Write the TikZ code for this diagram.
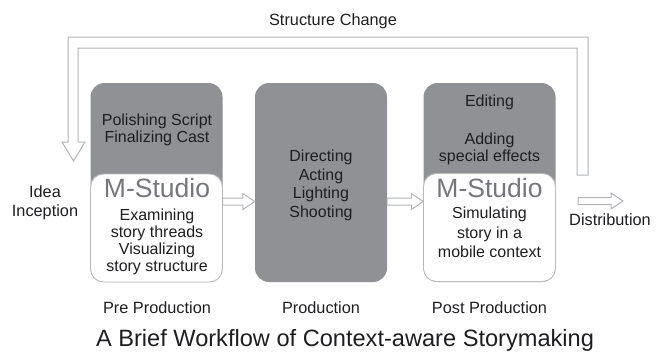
\documentclass[tikz,border=0pt]{standalone}
\usepackage{fontspec}
\setmainfont{Liberation Sans}
\usetikzlibrary{calc}
\definecolor{boxgray}{RGB}{143,145,149}
\definecolor{edgegray}{RGB}{185,186,190}
\definecolor{linegray}{RGB}{178,180,184}
\definecolor{studiogray}{RGB}{118,119,124}
\definecolor{inkgray}{RGB}{30,30,33}
\tikzset{
  stage/.style={rounded corners=14pt, fill=boxgray, minimum width=132pt,
    minimum height=199pt, inner sep=0pt},
  studio/.style={rounded corners=13pt, fill=white, draw=edgegray, line width=0.9pt,
    minimum width=132pt, minimum height=108pt, inner sep=0pt},
  txt/.style={font=\fontsize{16}{17}\selectfont, align=center, text=inkgray, inner sep=0pt},
  mstudio/.style={font=\fontsize{26.5}{28}\selectfont, text=studiogray, inner sep=0pt},
  label/.style={font=\fontsize{16.3}{19}\selectfont, align=center, text=inkgray, inner sep=0pt},
  hollow/.style={draw=linegray, fill=white, line width=1pt, line join=miter},
}
\newcommand{\hollowarrow}[2]{%
  \draw[hollow] let \p1=(#1), \p2=(#2) in
    (\x1,\y1+3.5pt) -- (\x2-12pt,\y1+3.5pt) -- (\x2-12pt,\y1+8pt) -- (\x2,\y1)
    -- (\x2-12pt,\y1-8pt) -- (\x2-12pt,\y1-3.5pt) -- (\x1,\y1-3.5pt) -- cycle;}
\begin{document}
\begin{tikzpicture}[x=1pt, y=-1pt]
  \useasboundingbox (0,0) rectangle (664,356);
  % feedback loop
  \draw[hollow] (577,175) -- (577,48) -- (78,48) -- (78,142) -- (85,142)
    -- (73.5,161) -- (62,142) -- (68,142) -- (68,37) -- (588,37) -- (588,175) -- cycle;
  \node[label] (change) at (333,21) {Structure Change};
  % pre production
  \node[stage] (pre) at (156.5,182.5) {};
  \node[studio] (prelow) at (156.5,228) {};
  \node[txt] (pretask) at (157,130) {Polishing Script\\Finalizing Cast};
  \node[mstudio] (prems) at (157,188) {M-Studio};
  \node[txt, font=\fontsize{16}{16.8}\selectfont] (prestudio) at (157,242)
    {Examining\\story threads\\Visualizing\\story structure};
  % production
  \node[stage] (prod) at (321,182.5) {};
  \node[txt, font=\fontsize{16}{18.6}\selectfont] (prodtask) at (321,185.5)
    {Directing\\Acting\\Lighting\\Shooting};
  % post production
  \node[stage] (post) at (489.5,182.5) {};
  \node[studio] (postlow) at (489.5,227.5) {};
  \node[txt] (postedit) at (489.5,102) {Editing};
  \node[txt] (posttask) at (489.5,148.5) {Adding\\special effects};
  \node[mstudio] (postms) at (489.5,188) {M-Studio};
  \node[txt, font=\fontsize{16}{19.5}\selectfont] (poststudio) at (489.5,232.5)
    {Simulating\\story in a\\mobile context};
  % side labels
  \node[label] (idea) at (45,202.5) {Idea\\Inception};
  \node[label] (dist) at (610,220) {Distribution};
  \coordinate (mid) at (0,201.5);
  \coordinate (dstart) at (578,201);
  \coordinate (dend) at (623,201);
  \hollowarrow{pre.east |- mid}{prod.west |- mid}
  \hollowarrow{prod.east |- mid}{post.west |- mid}
  \hollowarrow{dstart}{dend}
  % stage names
  \node[label] (prename) at (157,308) {Pre Production};
  \node[label] (prodname) at (321,308) {Production};
  \node[label] (postname) at (489.5,308) {Post Production};
  \node[label, font=\fontsize{23.6}{26}\selectfont] (title) at (345,340)
    {A Brief Workflow of Context-aware Storymaking};
\end{tikzpicture}
\end{document}
